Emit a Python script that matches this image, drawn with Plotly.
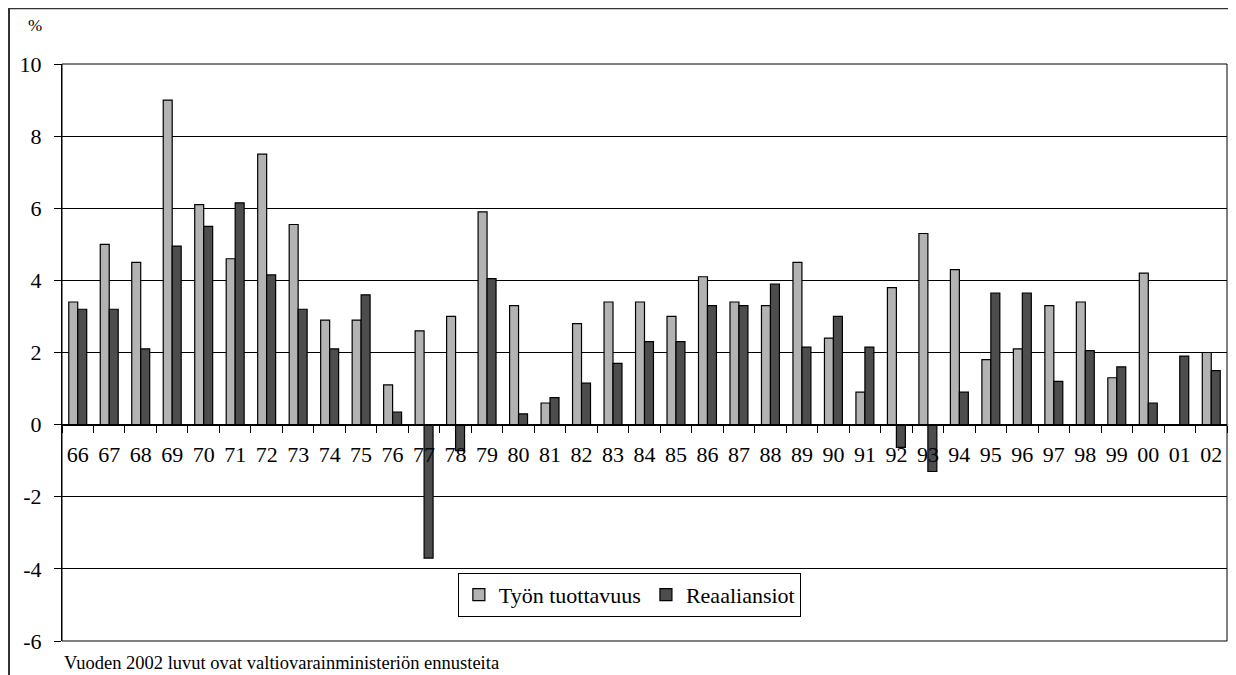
import plotly.graph_objects as go

# vuodet 1966-2002
vuodet = ["66", "67", "68", "69", "70", "71", "72", "73", "74", "75", "76", "77",
          "78", "79", "80", "81", "82", "83", "84", "85", "86", "87", "88", "89",
          "90", "91", "92", "93", "94", "95", "96", "97", "98", "99", "00", "01", "02"]

tuottavuus = [3.4, 5.0, 4.5, 9.0, 6.1, 4.6, 7.5, 5.55, 2.9, 2.9, 1.1, 2.6,
              3.0, 5.9, 3.3, 0.6, 2.8, 3.4, 3.4, 3.0, 4.1, 3.4, 3.3, 4.5,
              2.4, 0.9, 3.8, 5.3, 4.3, 1.8, 2.1, 3.3, 3.4, 1.3, 4.2, None, 2.0]

reaaliansiot = [3.2, 3.2, 2.1, 4.95, 5.5, 6.15, 4.15, 3.2, 2.1, 3.6, 0.35, -3.7,
                -0.72, 4.05, 0.3, 0.75, 1.15, 1.7, 2.3, 2.3, 3.3, 3.3, 3.9, 2.15,
                3.0, 2.15, -0.63, -1.3, 0.9, 3.65, 3.65, 1.2, 2.05, 1.6, 0.6, 1.9, 1.5]

y_ticks = [-6, -4, -2, 0, 2, 4, 6, 8, 10]
y_labels = ["-6", "-4", "-2", "0", "2", "4", "6", "8", "10"]

FONT = "Liberation Serif"

fig = go.Figure()
fig.add_trace(go.Bar(x=vuodet, y=tuottavuus, name="Työn tuottavuus",
                     marker=dict(color="#b3b3b3", line=dict(color="black", width=1.2))))
fig.add_trace(go.Bar(x=vuodet, y=reaaliansiot, name="Reaaliansiot",
                     marker=dict(color="#4d4d4d", line=dict(color="black", width=1.2))))

# nollataso paperikoordinaateissa (-6..10)
zero_pos = 6 / 16

# sivun oletusmarginaali (8 px) huomioitu
fig.update_layout(
    width=1228, height=667,
    margin=dict(l=54, r=9, t=56, b=34),
    paper_bgcolor="white", plot_bgcolor="white",
    barmode="group", bargap=0.43, bargroupgap=0,
    font=dict(family=FONT, color="black", size=22),
    xaxis=dict(type="category", anchor="free", position=zero_pos,
               showline=True, linecolor="black", linewidth=1,
               ticks="outside", tickson="boundaries", ticklen=7, tickcolor="black",
               ticklabelstandoff=10, showgrid=False, tickangle=0,
               tickfont=dict(family=FONT, size=22, color="black")),
    yaxis=dict(range=[-6, 10], tickvals=y_ticks, ticktext=y_labels,
               showgrid=True, gridcolor="black", gridwidth=1,
               zeroline=False, showline=True, linecolor="black", linewidth=1,
               ticks="outside", ticklen=7, tickcolor="black", ticklabelstandoff=8,
               tickfont=dict(family=FONT, size=22, color="black")),
    legend=dict(orientation="h", x=0.487, y=0.08, xanchor="center", yanchor="middle",
                bordercolor="black", borderwidth=1, bgcolor="white",
                font=dict(family=FONT, size=22, color="black")),
    showlegend=True,
)

# kuva-alueen kehys
fig.add_shape(type="rect", xref="paper", yref="paper", x0=0, x1=1, y0=0, y1=1,
              line=dict(color="black", width=1))
# ulkokehys
fig.add_shape(type="rect", xref="paper", yref="paper",
              x0=-0.0455, x1=1.0052, y0=-0.1, y1=1.0967,
              line=dict(color="#333333", width=2))

fig.add_annotation(text="%", xref="paper", yref="paper", x=-0.0232, y=1.0668,
                   xanchor="center", yanchor="middle",
                   showarrow=False, font=dict(family=FONT, size=17))
fig.add_annotation(text="Vuoden 2002 luvut ovat valtiovarainministeriön ennusteita",
                   xref="paper", yref="paper", x=0, y=-0.0387, xanchor="left",
                   yanchor="middle", showarrow=False, font=dict(family=FONT, size=18.5))

fig.write_html("out.html")
